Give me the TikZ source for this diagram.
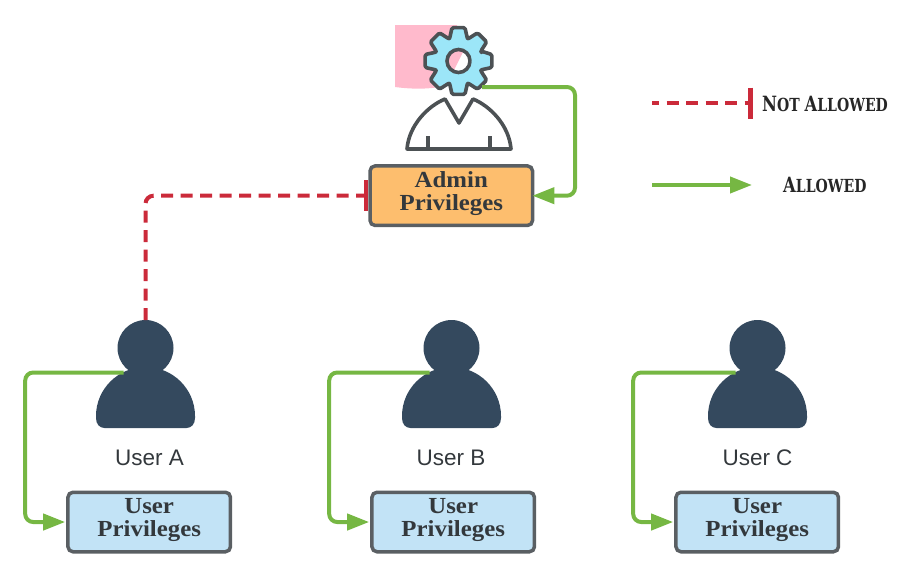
\documentclass[tikz,border=0pt]{standalone}
\usepackage{fontspec}
\usetikzlibrary{positioning,arrows.meta}
\newfontfamily\boxfont[FakeStretch=1.08]{Liberation Serif}
\newfontfamily\userfont{Liberation Sans}
\newfontfamily\legendfont[FakeStretch=.78]{DejaVu Serif}
\definecolor{allowgreen}{HTML}{76B743}
\definecolor{denyred}{HTML}{CB2A3A}
\definecolor{edgegrey}{HTML}{5A5F63}
\definecolor{inkgrey}{HTML}{33383C}
\definecolor{usernavy}{HTML}{34495E}
\definecolor{adminfill}{HTML}{FDBE6E}
\definecolor{userfill}{HTML}{C2E3F6}
\definecolor{gearfill}{HTML}{9CE6F8}
\definecolor{patchpink}{HTML}{FFBACC}
\newcommand{\capsword}[3]{{\fontsize{#1}{#1}\selectfont\uppercase{#2}}{\fontsize{\numexpr#1*5/6\relax}{#1}\selectfont\uppercase{#3}}}
\tikzset{
	privbox/.style={draw=edgegrey, line width=3.5pt, rounded corners=5pt, minimum width=162.5pt, minimum height=59.5pt, inner sep=0pt, align=center, text depth=9pt, text=inkgrey, font=\boxfont\bfseries\fontsize{23}{23}\selectfont},
	adminbox/.style={privbox, fill=adminfill},
	userbox/.style={privbox, fill=userfill},
	userhead/.style={circle, fill=usernavy, minimum size=56pt, inner sep=0pt, outer sep=0pt},
	userlabel/.style={inner sep=0pt, text=inkgrey, font=\userfont\fontsize{22.5}{22.5}\selectfont},
	legendlabel/.style={inner sep=0pt, text=black!85, font=\legendfont\bfseries},
	allowed/.style={draw=allowgreen, line width=4pt, rounded corners=8pt, -{Triangle[length=22pt,width=16pt]}},
	denied/.style={draw=denyred, line width=4pt, rounded corners=8pt, dash pattern=on 12pt off 7.5pt, -{Bar[width=31pt,line width=4.2pt]}},
	adminline/.style={draw=edgegrey!85!black, line width=3.6pt, line join=round},
	pics/userbody/.style={code={
		\fill[usernavy] (-49.5,68) .. controls (-49.5,41) and (-27.3,19) .. (0,19) .. controls (27.3,19) and (49.5,41) .. (49.5,68) -- (49.5,70) .. controls (49.5,76) and (46,80) .. (41,80) -- (-41,80) .. controls (-46,80) and (-49.5,76) .. (-49.5,70) -- cycle;
	}}
}
\begin{document}
\begin{tikzpicture}[x=1pt, y=-1pt]
		\useasboundingbox (0,0) rectangle (917,587);
		
		\fill[patchpink] (395,25) -- (457,25) -- (463,52) -- (455,68) -- (449,85) .. controls (430,90) and (410,89) .. (395,87) -- cycle;
		\begin{scope}[shift={(458.5,61)}]
			\path[adminline, fill=gearfill, even odd rule, rounded corners=1.5pt] (-24:24.5) \foreach \a in {0,45,...,315} { -- (\a-11:34) -- (\a+11:34) -- (\a+21:24.5) -- (\a+24:24.5) } -- cycle (0:11.5) arc[start angle=0, end angle=360, radius=11.5];
		\end{scope}
		\draw[adminline] (407,149) .. controls (409,125) and (428,106) .. (445,99) -- (459,123) -- (473,99) .. controls (490,106) and (509,125) .. (511,149) -- cycle;
		\draw[adminline] (428,136) -- (428,149);
		\draw[adminline] (490,136) -- (490,149);
		
		\node[adminbox] (admin) at (451.3,195.7) {Admin\\Privileges};
		\coordinate (gearfoot) at (482,87);
		\coordinate (adminbend) at (575,140);
		
		\node[userhead] (headA) at (145.5,348) {};
		\node[userhead, right=250pt of headA] (headB) {};
		\node[userhead, right=250pt of headB] (headC) {};
		
		\node[userbox] (boxA) at (149.2,522) {User\\Privileges};
		\node[userbox, right=138pt of boxA] (boxB) {User\\Privileges};
		\node[userbox, right=138pt of boxB] (boxC) {User\\Privileges};
		
		\node[userlabel] (labelA) at (149.5,458) {User A};
		\node[userlabel] (labelB) at (451,458) {User B};
		\node[userlabel] (labelC) at (757.5,458) {User C};
		
		\foreach \who in {A,B,C} {
			\pic at (head\who.center) {userbody};
			\coordinate (arm\who) at ([shift={(-22,24.5)}]head\who.center);
			\coordinate (bend\who) at ([xshift=-41pt]box\who.west);
			\draw[allowed, shorten >=1pt] (arm\who) -| (bend\who) -- (box\who.west);
		}
		
		\draw[allowed, shorten >=-2pt] (gearfoot) -| (adminbend) |- (admin.east);
		\draw[denied, shorten >=.5pt] (headA.north) |- (admin.west);
		
		\coordinate (deniedstart) at (652,103);
		\coordinate (deniedend) at (752.5,103);
		\coordinate (allowstart) at (652,185);
		\coordinate (allowend) at (752,185);
		\draw[denied, dash phase=5pt] (deniedstart) -- (deniedend);
		\draw[allowed] (allowstart) -- (allowend);
		\node[legendlabel, anchor=base west] (deniedtext) at (762,111) {\capsword{21}{N}{ot}\hspace{2pt} \capsword{21}{A}{llowed}};
		\node[legendlabel, anchor=base west] (allowtext) at (783,192) {\capsword{21}{A}{llowed}};
		\end{tikzpicture}
\end{document}
